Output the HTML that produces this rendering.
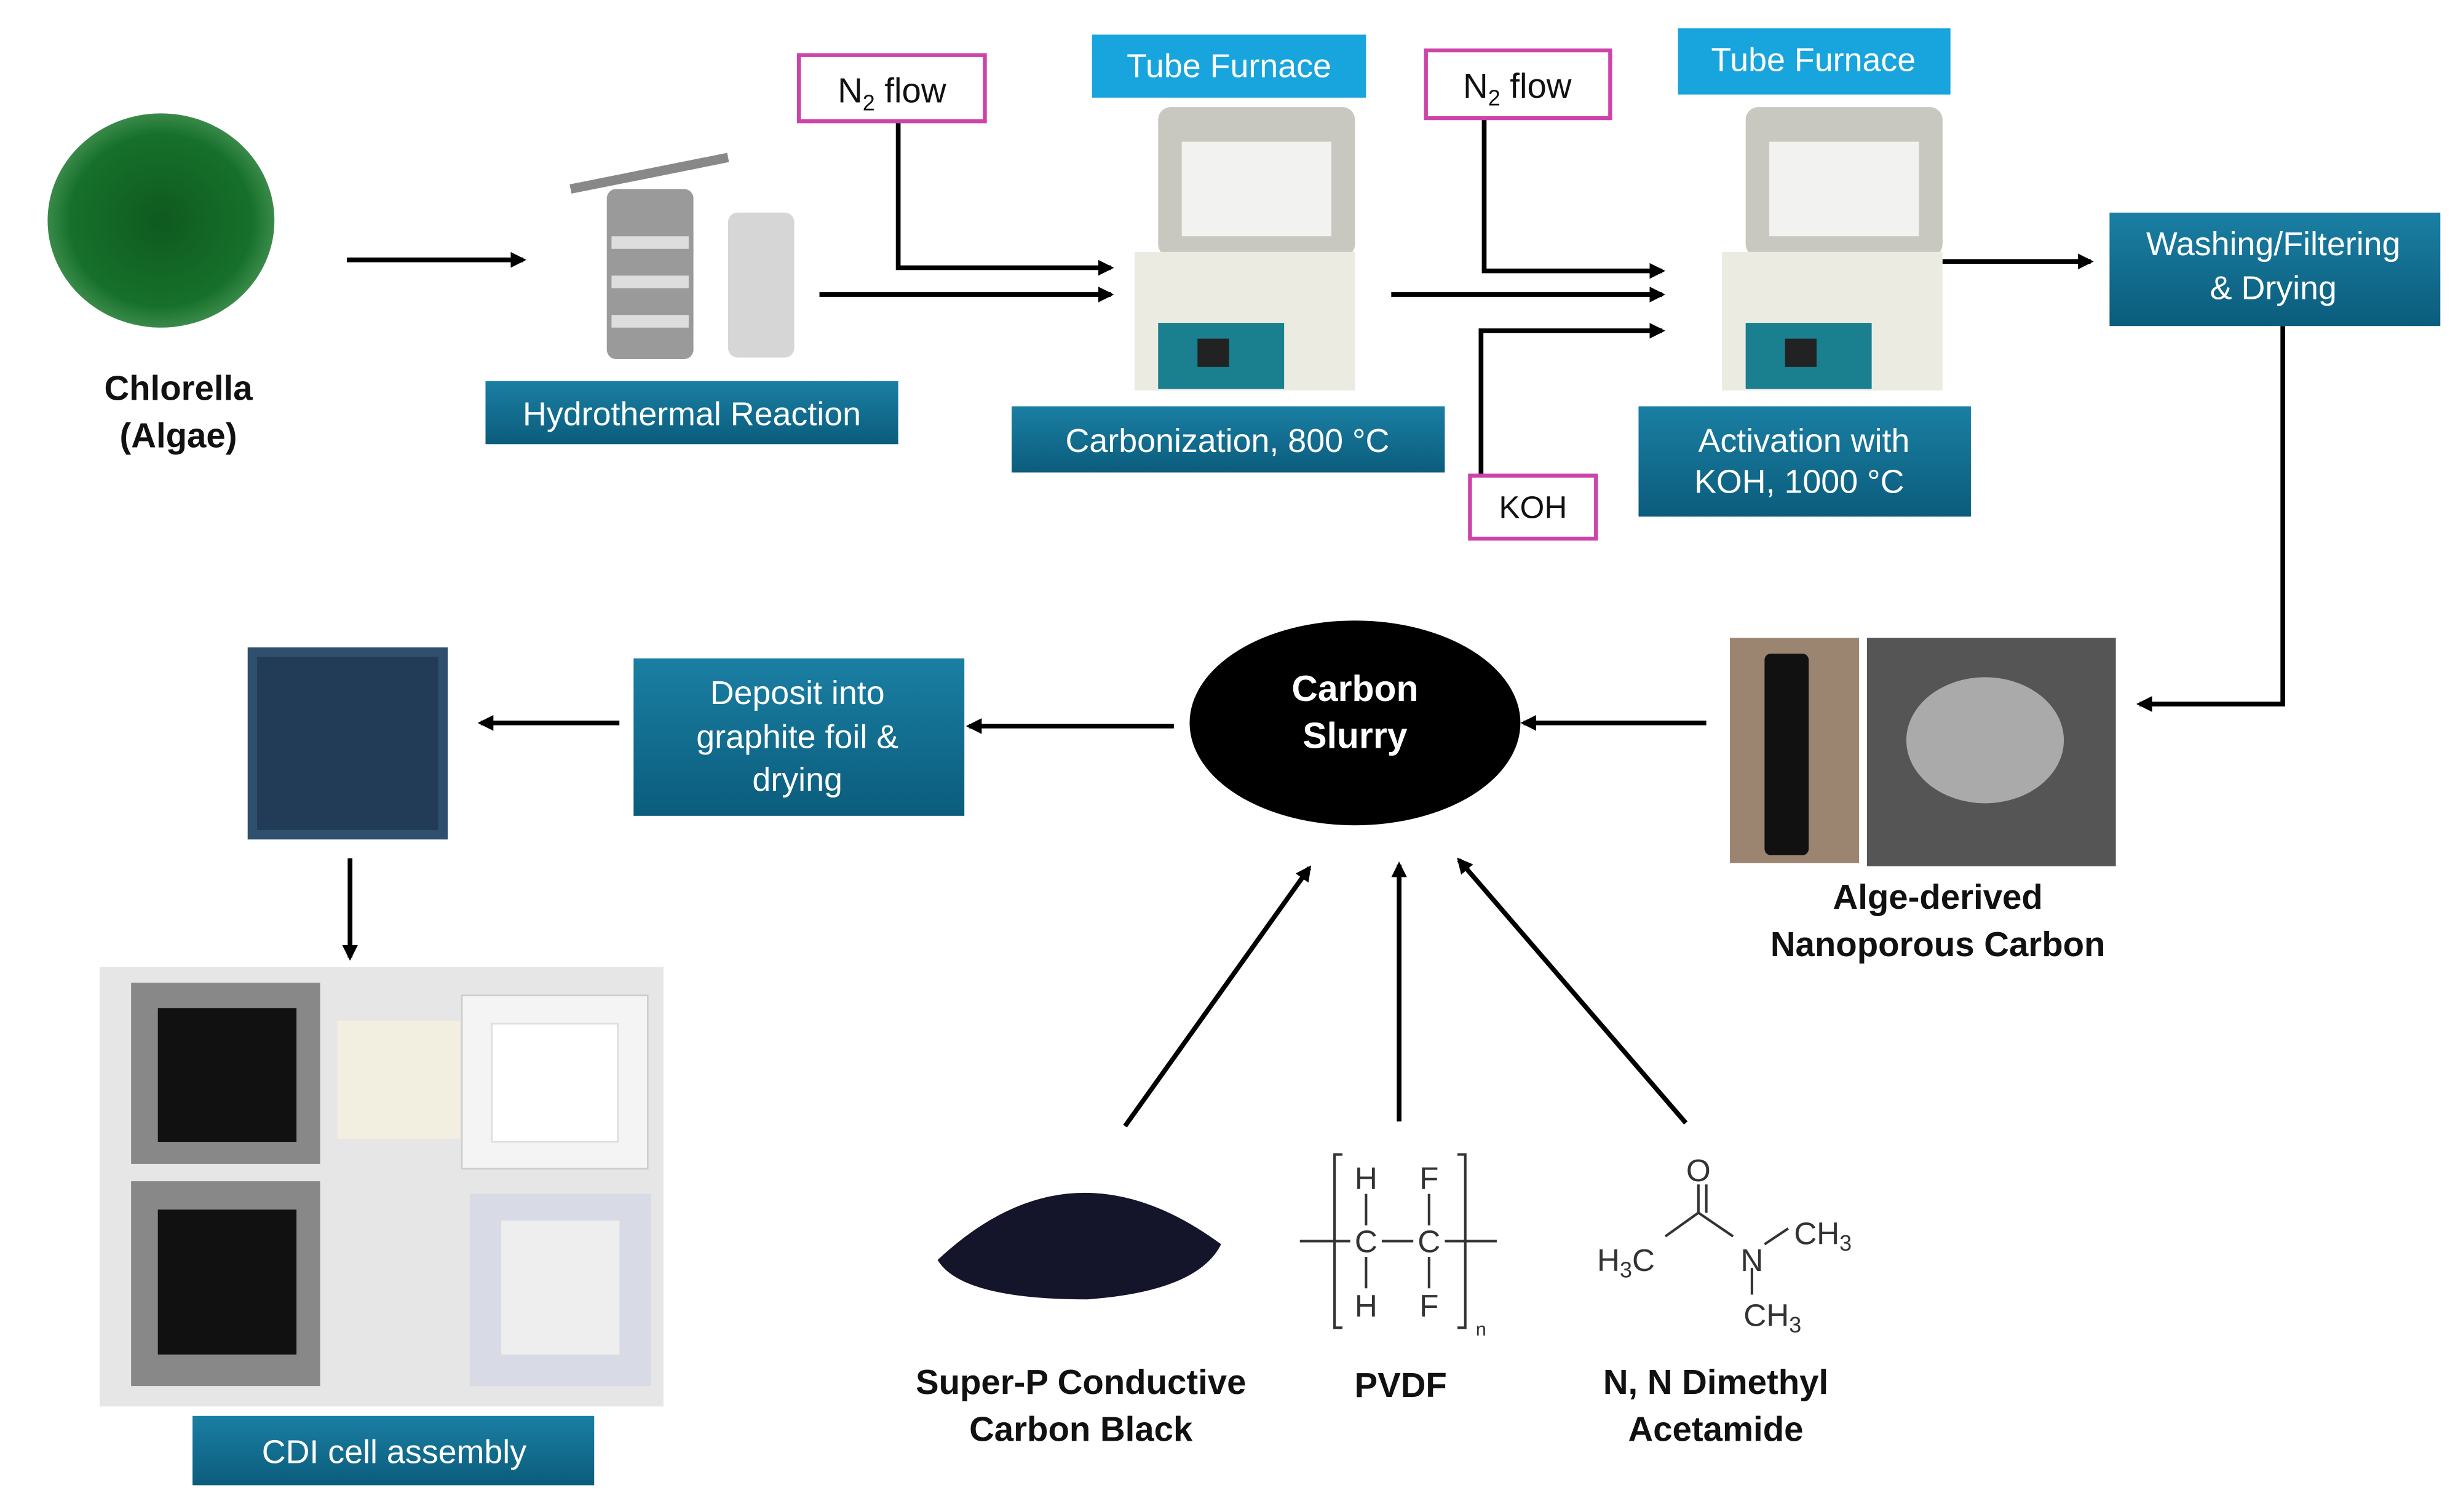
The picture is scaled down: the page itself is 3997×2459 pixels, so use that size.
<!DOCTYPE html>
<html><head><meta charset="utf-8"><style>
html,body{margin:0;padding:0;background:#fff}
svg{display:block}
text{font-family:"Liberation Sans",sans-serif}
</style></head><body>
<svg width="3997" height="2459" viewBox="0 0 1560 960" xmlns="http://www.w3.org/2000/svg">
<defs>
<linearGradient id="tb" x1="0" y1="0" x2="0" y2="1"><stop offset="0" stop-color="#1a7fa3"/><stop offset="1" stop-color="#0b5c7c"/></linearGradient>
<radialGradient id="gr" cx="0.5" cy="0.5" r="0.5"><stop offset="0" stop-color="#0f5a1f"/><stop offset="0.8" stop-color="#16702b"/><stop offset="1" stop-color="#3a8a4a"/></radialGradient>
<marker id="ah" markerWidth="10" markerHeight="10" refX="8" refY="5" orient="auto" markerUnits="userSpaceOnUse"><path d="M0,0 L10,5 L0,10 z" fill="#000"/></marker>
</defs>
<g stroke="#000" stroke-width="3" fill="none" marker-end="url(#ah)">
<line x1="220" y1="165" x2="332" y2="165"/>
<line x1="520" y1="187" x2="705" y2="187"/>
<polyline points="570,77 570,170 705,170"/>
<line x1="883" y1="187" x2="1055" y2="187"/>
<polyline points="942,75 942,172 1055,172"/>
<polyline points="940,302 940,210 1055,210"/>
<line x1="1232" y1="166" x2="1327" y2="166"/>
<polyline points="1449,207 1449,447 1358,447"/>
<line x1="1083" y1="459" x2="967" y2="459"/>
<line x1="745" y1="461" x2="615" y2="461"/>
<line x1="393" y1="459" x2="305" y2="459"/>
<line x1="222" y1="545" x2="222" y2="608"/>
<line x1="714" y1="715" x2="831" y2="551"/>
<line x1="888" y1="712" x2="888" y2="549"/>
<line x1="1070" y1="713" x2="926" y2="546"/>
</g>
<!-- algae -->
<ellipse cx="102" cy="140" rx="72" ry="68" fill="url(#gr)"/>
<g font-weight="bold" font-size="22" text-anchor="middle" fill="#111">
<text x="113" y="254">Chlorella</text><text x="113" y="284">(Algae)</text>
<text x="1230" y="577">Alge-derived</text><text x="1230" y="607">Nanoporous Carbon</text>
<text x="686" y="885">Super-P Conductive</text><text x="686" y="915">Carbon Black</text>
<text x="889" y="887">PVDF</text>
<text x="1089" y="885">N, N Dimethyl</text><text x="1089" y="915">Acetamide</text>
</g>
<!-- autoclave -->
<rect x="385" y="120" width="55" height="108" rx="6" fill="#9a9a9a"/>
<rect x="388" y="150" width="49" height="8" fill="#ddd"/><rect x="388" y="175" width="49" height="8" fill="#ddd"/><rect x="388" y="200" width="49" height="8" fill="#ddd"/>
<line x1="362" y1="120" x2="462" y2="100" stroke="#888" stroke-width="6"/>
<rect x="462" y="135" width="42" height="92" rx="6" fill="#d6d6d6"/>
<!-- furnaces -->
<g>
<rect x="735" y="68" width="125" height="95" rx="8" fill="#c8c8c0"/><rect x="750" y="90" width="95" height="60" fill="#f2f2f0"/>
<rect x="720" y="160" width="140" height="88" fill="#ecebe2"/><rect x="735" y="205" width="80" height="42" fill="#1a7f8e"/><rect x="760" y="215" width="20" height="18" fill="#222"/>
</g>
<g transform="translate(373,0)">
<rect x="735" y="68" width="125" height="95" rx="8" fill="#c8c8c0"/><rect x="750" y="90" width="95" height="60" fill="#f2f2f0"/>
<rect x="720" y="160" width="140" height="88" fill="#ecebe2"/><rect x="735" y="205" width="80" height="42" fill="#1a7f8e"/><rect x="760" y="215" width="20" height="18" fill="#222"/>
</g>
<!-- teal boxes -->
<g fill="url(#tb)">
<rect x="308" y="242" width="262" height="40"/>
<rect x="642" y="258" width="275" height="42"/>
<rect x="1040" y="258" width="211" height="70"/>
<rect x="1339" y="135" width="210" height="72"/>
<rect x="402" y="418" width="210" height="100"/>
<rect x="122" y="899" width="255" height="44"/>
</g>
<rect x="693" y="22" width="174" height="40" fill="#18a4dc"/>
<rect x="1065" y="18" width="173" height="42" fill="#18a4dc"/>
<g fill="#fff" font-size="21" text-anchor="middle">
<text x="439" y="270">Hydrothermal Reaction</text>
<text x="779" y="287">Carbonization, 800 °C</text>
<text x="1145" y="287">Activation with</text><text x="1142" y="313">KOH, 1000 °C</text>
<text x="1443" y="162">Washing/Filtering</text><text x="1443" y="190">&amp; Drying</text>
<text x="506" y="447">Deposit into</text><text x="506" y="475">graphite foil &amp;</text><text x="506" y="502">drying</text>
<text x="250" y="929">CDI cell assembly</text>
<text x="780" y="49">Tube Furnace</text><text x="1151" y="45">Tube Furnace</text>
</g>
<!-- magenta boxes -->
<g fill="#fff" stroke="#cc44aa" stroke-width="2.5">
<rect x="507" y="35" width="118" height="42"/><rect x="905" y="32" width="117" height="43"/><rect x="933" y="302" width="80" height="40"/>
</g>
<g font-size="22" text-anchor="middle" fill="#111">
<text x="566" y="65">N<tspan font-size="14" dy="5">2</tspan><tspan dy="-5"> flow</tspan></text>
<text x="963" y="62">N<tspan font-size="14" dy="5">2</tspan><tspan dy="-5"> flow</tspan></text>
<text x="973" y="329" font-size="20">KOH</text>
</g>
<!-- slurry -->
<ellipse cx="860" cy="459" rx="105" ry="65" fill="#000"/>
<g fill="#fff" font-weight="bold" font-size="23" text-anchor="middle"><text x="860" y="445">Carbon</text><text x="860" y="475">Slurry</text></g>
<!-- photos -->
<rect x="1098" y="405" width="82" height="143" fill="#9b8470"/><rect x="1120" y="415" width="28" height="128" rx="4" fill="#111"/>
<rect x="1185" y="405" width="158" height="145" fill="#555"/><ellipse cx="1260" cy="470" rx="50" ry="40" fill="#aaa"/>
<rect x="157" y="411" width="127" height="122" fill="#2e4f6d"/><rect x="163" y="417" width="115" height="110" fill="#223c58"/>
<rect x="63" y="614" width="358" height="279" fill="#e6e6e6"/>
<rect x="83" y="624" width="120" height="115" fill="#888"/><rect x="100" y="640" width="88" height="85" fill="#111"/>
<rect x="83" y="750" width="120" height="130" fill="#888"/><rect x="100" y="768" width="88" height="92" fill="#111"/>
<rect x="214" y="648" width="78" height="75" fill="#f3efe0"/>
<rect x="293" y="632" width="118" height="110" fill="#f4f4f4" stroke="#ccc"/><rect x="312" y="650" width="80" height="75" fill="#fff" stroke="#ddd"/>
<rect x="298" y="758" width="115" height="122" fill="#d8dbe5"/><rect x="318" y="775" width="75" height="85" fill="#eee"/>
<!-- carbon black pile -->
<path d="M595,800 Q680,720 775,790 Q760,820 690,825 Q610,825 595,800z" fill="#14142a"/>
<!-- PVDF -->
<g stroke="#333" stroke-width="1.6" fill="none">
<line x1="825" y1="788" x2="857" y2="788"/><line x1="877" y1="788" x2="897" y2="788"/><line x1="917" y1="788" x2="950" y2="788"/>
<line x1="867" y1="758" x2="867" y2="778"/><line x1="867" y1="798" x2="867" y2="818"/>
<line x1="907" y1="758" x2="907" y2="778"/><line x1="907" y1="798" x2="907" y2="818"/>
<path d="M852,733 h-5 v110 h5"/><path d="M925,733 h5 v110 h-5"/>
<line x1="1057" y1="785" x2="1078" y2="770"/><line x1="1078" y1="770" x2="1100" y2="785"/><line x1="1078" y1="770" x2="1078" y2="752"/><line x1="1083" y1="770" x2="1083" y2="752"/>
<line x1="1120" y1="790" x2="1135" y2="780"/><line x1="1112" y1="805" x2="1112" y2="822"/>
</g>
<g font-size="20" fill="#333" text-anchor="middle">
<text x="867" y="755">H</text><text x="907" y="755">F</text><text x="867" y="795">C</text><text x="907" y="795">C</text>
<text x="867" y="836">H</text><text x="907" y="836">F</text><text x="940" y="848" font-size="12">n</text>
<text x="1078" y="750">O</text><text x="1032" y="807">H<tspan font-size="14" dy="4">3</tspan><tspan dy="-4">C</tspan></text>
<text x="1112" y="807">N</text><text x="1157" y="790">CH<tspan font-size="14" dy="4">3</tspan></text>
<text x="1125" y="842">CH<tspan font-size="14" dy="4">3</tspan></text>
</g>
</svg>
</body></html>
